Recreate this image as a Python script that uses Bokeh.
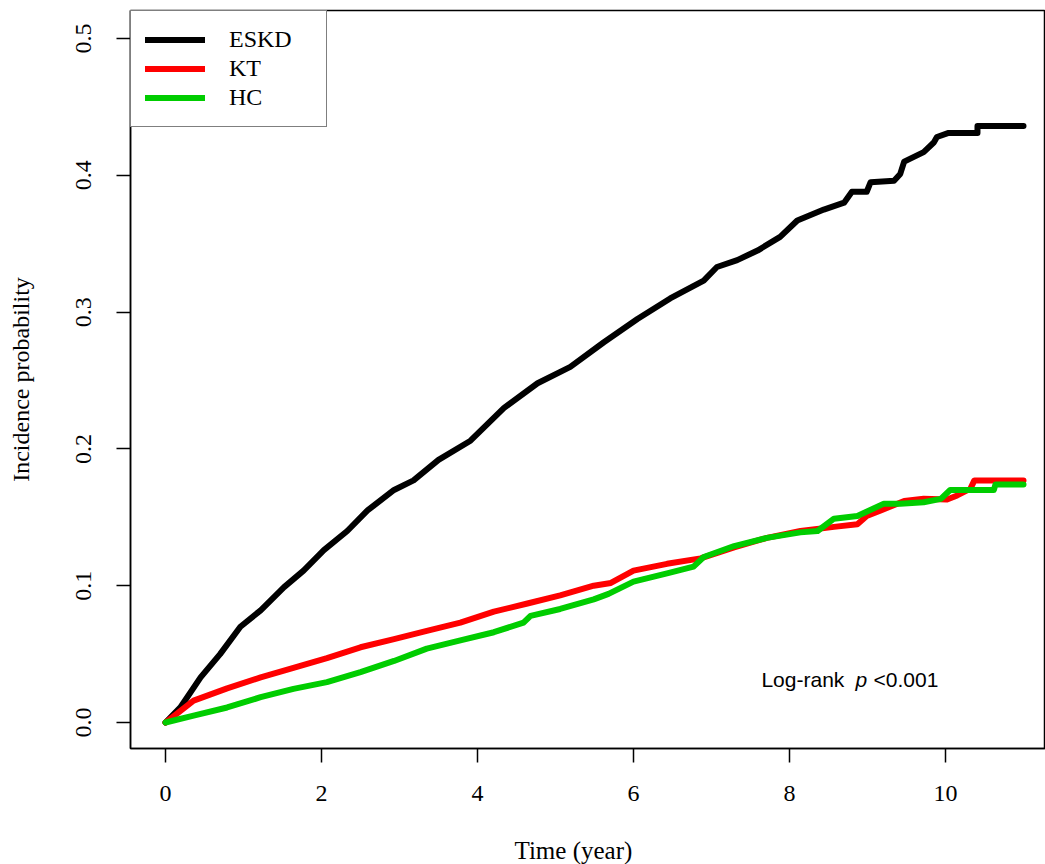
from bokeh.plotting import figure
from bokeh.models import Range1d, Label, Legend, LegendItem, FixedTicker, Title
from bokeh.embed import file_html
from bokeh.resources import INLINE

# ---- data ----
eskd_t = [0.0, 0.19, 0.45, 0.70, 0.96, 1.22, 1.52, 1.77, 2.03, 2.33, 2.59, 2.93, 3.18, 3.5, 3.91,
          4.34, 4.77, 5.19, 5.62, 6.05, 6.47, 6.90, 7.07, 7.33, 7.59, 7.88, 8.10, 8.44, 8.70, 8.80,
          8.99, 9.04, 9.34, 9.42, 9.47, 9.72, 9.85, 9.89, 10.04, 10.41, 10.41, 11.0]
eskd_y = [0.0, 0.011, 0.033, 0.050, 0.070, 0.082, 0.099, 0.111, 0.126, 0.140, 0.155, 0.170, 0.177,
          0.192, 0.206, 0.230, 0.248, 0.260, 0.278, 0.295, 0.310, 0.323, 0.333, 0.338, 0.345, 0.355,
          0.367, 0.375, 0.380, 0.388, 0.388, 0.395, 0.396, 0.401, 0.410, 0.417, 0.424, 0.428, 0.431,
          0.431, 0.436, 0.436]

kt_t = [0.0, 0.36, 0.79, 1.22, 1.64, 2.07, 2.50, 2.93, 3.35, 3.78, 4.21, 4.64, 5.06, 5.49, 5.71,
        6.00, 6.43, 6.86, 7.29, 7.71, 8.14, 8.57, 8.87, 8.99, 9.17, 9.47, 9.72, 10.02, 10.15, 10.32,
        10.37, 11.0]
kt_y = [0.0, 0.016, 0.025, 0.033, 0.040, 0.047, 0.055, 0.061, 0.067, 0.073, 0.081, 0.087, 0.093,
        0.100, 0.102, 0.111, 0.116, 0.120, 0.128, 0.135, 0.140, 0.143, 0.145, 0.151, 0.155, 0.162,
        0.1635, 0.163, 0.166, 0.171, 0.177, 0.177]

hc_t = [0.0, 0.36, 0.79, 1.22, 1.64, 2.07, 2.50, 2.93, 3.35, 3.78, 4.21, 4.59, 4.68, 5.06, 5.49,
        5.68, 6.00, 6.43, 6.77, 6.90, 7.29, 7.71, 8.14, 8.36, 8.57, 8.87, 9.21, 9.42, 9.72, 9.94,
        10.06, 10.62, 10.64, 11.0]
hc_y = [0.0, 0.005, 0.011, 0.0185, 0.0246, 0.0295, 0.0368, 0.045, 0.054, 0.060, 0.066, 0.073,
        0.078, 0.083, 0.090, 0.094, 0.103, 0.109, 0.114, 0.121, 0.129, 0.135, 0.139, 0.140, 0.149,
        0.151, 0.160, 0.160, 0.161, 0.1635, 0.170, 0.170, 0.174, 0.174]

series_names = ["ESKD", "KT", "HC"]
series_colors = ["#000000", "#FF0000", "#00CD00"]
x_ticks = [0, 2, 4, 6, 8, 10]
y_ticks = [0.0, 0.1, 0.2, 0.3, 0.4, 0.5]
y_tick_labels = {0.0: "0.0", 0.1: "0.1", 0.2: "0.2", 0.3: "0.3", 0.4: "0.4", 0.5: "0.5"}

SERIF = "Liberation Serif"
SANS = "Liberation Sans"

p = figure(width=1045, height=864, output_backend="svg", toolbar_location=None,
           x_range=Range1d(-0.4487, 11.282), y_range=Range1d(-0.019, 0.5205),
           min_border_left=130, min_border_right=0, min_border_top=10, min_border_bottom=116)
p.grid.visible = False
p.background_fill_color = "white"
p.border_fill_color = "white"
p.outline_line_color = "black"
p.outline_line_width = 1.5

for ax in (p.xaxis[0], p.yaxis[0]):
    ax.axis_line_color = "black"
    ax.axis_line_width = 1.5
    ax.major_tick_line_color = "black"
    ax.major_tick_line_width = 1.5
    ax.major_tick_out = 14
    ax.major_tick_in = 0
    ax.minor_tick_line_color = None
    ax.major_label_text_font = SERIF
    ax.major_label_text_font_size = "24px"
    ax.major_label_text_color = "black"
    ax.axis_label_text_font = SERIF
    ax.axis_label_text_font_size = "24px"
    ax.axis_label_text_font_style = "normal"
    ax.axis_label_text_color = "black"

p.xaxis.ticker = FixedTicker(ticks=x_ticks)
p.xaxis.major_label_standoff = 23
# blank spacer label so the title below sits at the bottom edge
p.xaxis.axis_label = " "
p.xaxis.axis_label_standoff = 2
p.yaxis.ticker = FixedTicker(ticks=y_ticks)
p.yaxis.major_label_overrides = y_tick_labels
p.yaxis.major_label_orientation = "vertical"
p.yaxis.major_label_standoff = 25
p.yaxis.axis_label = "Incidence probability"
p.yaxis.axis_label_standoff = 40

renderers = []
for (t, y), name, col in zip([(eskd_t, eskd_y), (kt_t, kt_y), (hc_t, hc_y)], series_names, series_colors):
    r = p.line(t, y, line_color=col, line_width=6, line_join="round", line_cap="round")
    renderers.append(r)

legend = Legend(items=[LegendItem(label=n, renderers=[r]) for n, r in zip(series_names, renderers)],
                location="top_left", margin=0, padding=14, spacing=0,
                glyph_width=60, glyph_height=29, label_height=29, label_width=83,
                label_standoff=24, label_text_font=SERIF, label_text_font_size="24px",
                label_text_color="black", border_line_color="black", border_line_width=1.5,
                background_fill_color="white", background_fill_alpha=1.0)
p.add_layout(legend)

# x-axis title
p.add_layout(Title(text="Time (year)", align="left", offset=384, standoff=0,
                   text_font=SERIF, text_font_size="25px", text_font_style="normal",
                   text_color="black"), "below")

# log-rank annotation
p.add_layout(Label(x=7.64, y=0.0314, text="Log-rank", text_align="left", text_baseline="middle",
                   text_font=SANS, text_font_size="21px", text_color="black"))
p.add_layout(Label(x=8.846, y=0.0314, text="p", text_align="left", text_baseline="middle",
                   text_font=SANS, text_font_size="21px", text_font_style="italic", text_color="black"))
p.add_layout(Label(x=9.077, y=0.0314, text="<0.001", text_align="left", text_baseline="middle",
                   text_font=SANS, text_font_size="21px", text_color="black"))

open("out.html", "w").write(file_html(p, INLINE))
